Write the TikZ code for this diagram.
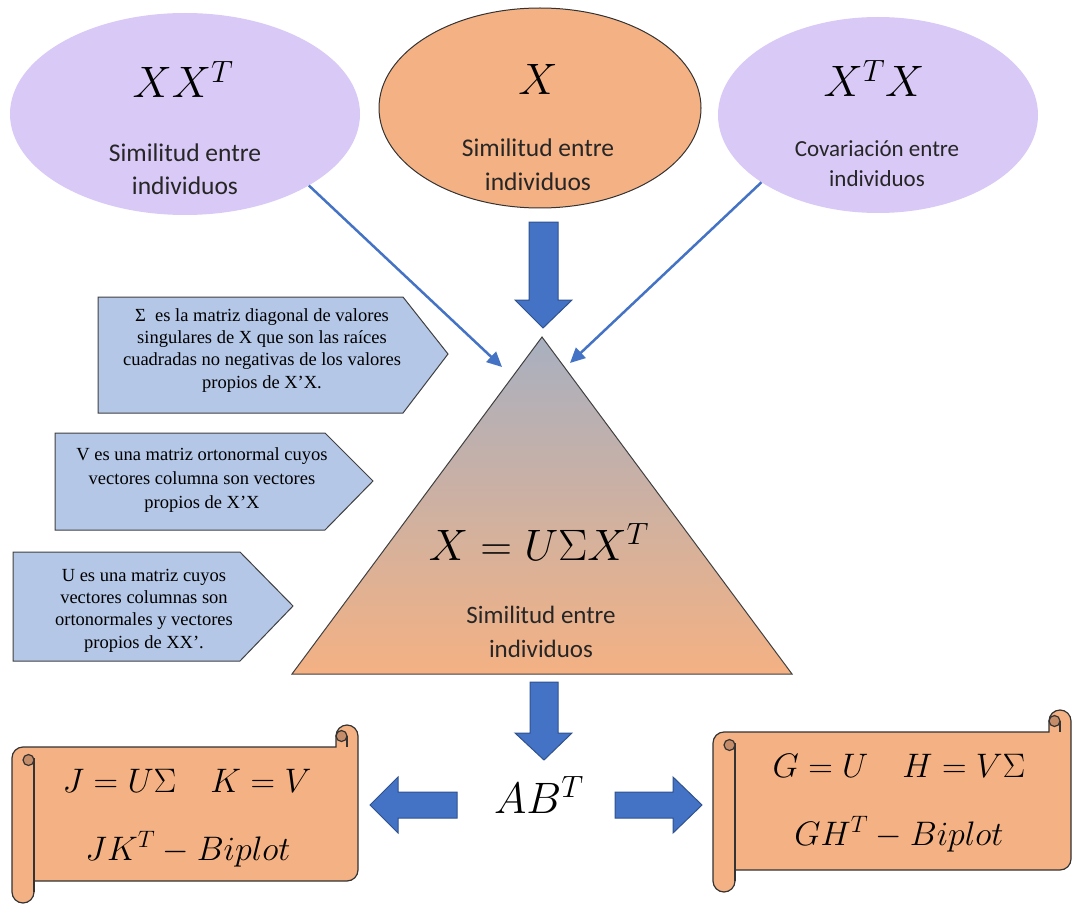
\RequirePackage{fix-cm}
\documentclass[tikz,border=0pt]{standalone}
\usepackage[no-math]{fontspec}
\setmainfont{Carlito}
\newfontfamily\cajafont{Liberation Serif}
\usetikzlibrary{arrows.meta, shapes.geometric}

\definecolor{lavanda}{RGB}{217,201,246}
\definecolor{naranja}{RGB}{244,177,131}
\definecolor{naranjaosc}{RGB}{196,140,104}
\definecolor{azulcaja}{RGB}{180,199,231}
\definecolor{azulflecha}{RGB}{68,114,196}
\definecolor{azulborde}{RGB}{47,82,143}
\definecolor{grisvertice}{RGB}{168,176,192}

% pergamino horizontal: izquierda, arriba, derecha, abajo
\newcommand{\pergamino}[4]{%
  \draw[rollo, fill=naranja] (#1,#2+33) -- (#1,#4-11) arc[start angle=180, end angle=0, radius=11]
    -- (#1+22,#4-22) -- (#3-11,#4-22) arc[start angle=90, end angle=0, radius=11]
    -- (#3,#2+11) arc[start angle=0, end angle=-180, radius=11]
    -- (#3-22,#2+22) -- (#1+11,#2+22) arc[start angle=-90, end angle=-180, radius=11] -- cycle;
  \draw[rollo] (#1+22,#2+33) -- (#1+22,#4-11);
  \draw[rollo, fill=naranjaosc] (#1+16.5,#2+35) circle[radius=5.5];
  \draw[rollo, fill=naranjaosc] (#3-16.5,#2+11) circle[radius=5.5];
  \draw[rollo] (#3-11,#2+11) -- (#3-11,#2+22);
}

\begin{document}
\begin{tikzpicture}[x=1pt, y=-1pt,
    elip/.style={ellipse, inner sep=0pt, fill=lavanda, draw=none},
    elipx/.style={ellipse, inner sep=0pt, fill=naranja, draw=black!80, line width=1pt},
    formula/.style={inner sep=0pt, anchor=base, font=\fontsize{44}{50}\selectfont},
    formulap/.style={inner sep=0pt, anchor=base, font=\fontsize{34}{40}\selectfont},
    texto/.style={inner sep=0pt, anchor=base, align=center, font=\fontsize{25.5}{33}\selectfont, text=black!85},
    nota/.style={inner sep=0pt, anchor=base, align=center, font=\cajafont\fontsize{18.5}{22.3}\selectfont},
    caja/.style={fill=azulcaja, draw=black!75, line width=1pt},
    bloque/.style={fill=azulflecha, draw=azulborde, line width=1pt},
    fina/.style={draw=azulflecha, line width=2.5pt, -{Triangle[length=15pt, width=14pt]}},
    tri/.style={top color=grisvertice, bottom color=naranja, draw=black!75, line width=1pt},
    rollo/.style={draw=black!80, line width=1.2pt},
]
\useasboundingbox (0,0) rectangle (1073,904);

% === Elipses superiores ===
\node[elip, minimum width=350, minimum height=202] (xxt) at (185,114) {};
\node[elipx, minimum width=322, minimum height=200] (x) at (540,108) {};
\node[elip, minimum width=320, minimum height=196] (xtx) at (878,115) {};

\node[formula] (xxtF) at (183,98) {$XX^T$};
\node[texto] (xxtT) at (185,195) {Similitud entre\\individuos};
\node[formula] (xF) at (538,95) {$X$};
\node[texto] (xT) at (538,190) {Similitud entre\\individuos};
\node[formula] (xtxF) at (874,97) {$X^TX$};
\node[texto, font=\fontsize{23}{30}\selectfont] (xtxT) at (877,187) {Covariación entre\\individuos};

% === Triangulo central ===
\coordinate (cima) at (542,337);
\coordinate (baseI) at (292,674);
\coordinate (baseD) at (792,674);
\draw[tri] (cima) -- (baseD) -- (baseI) -- cycle;
\node[formula] (svd) at (539,560) {$X=U\Sigma X^T$};
\node[texto, font=\fontsize{25}{34}\selectfont] (svdT) at (541,657) {Similitud entre\\individuos};

% flechas finas
\coordinate (llegaI) at (502,367);
\coordinate (llegaD) at (570,363);
\draw[fina] (xxt.-30) -- (llegaI);
\draw[fina] (xtx.-150) -- (llegaD);

% flecha de bloque X -> triangulo
\draw[bloque] (529,222) -- (558,222) -- (558,300) -- (572,300) -- (543,328) -- (515,300) -- (529,300) -- cycle;

% === Notas a la izquierda ===
\draw[caja] (98,297) -- (403,297) -- (448,354) -- (403,413) -- (98,413) -- cycle;
\node[nota] (notaSigma) at (262,388) {Σ\ \ es la matriz diagonal de valores\\singulares de X que son las raíces\\cuadradas no negativas de los valores\\propios de X’X.};

\draw[caja] (55,433) -- (325,433) -- (373,481) -- (325,530) -- (55,530) -- cycle;
\node[nota, font=\cajafont\fontsize{18.5}{24}\selectfont] (notaV) at (202,508) {V es una matriz ortonormal cuyos\\vectores columna son vectores\\propios de X’X};

\draw[caja] (13,552) -- (240,552) -- (293,606) -- (240,661) -- (13,661) -- cycle;
\node[nota] (notaU) at (144,648) {U es una matriz cuyos\\vectores columnas son\\ortonormales y vectores\\propios de XX’.};

% === Parte inferior ===
\draw[bloque] (530,682) -- (558,682) -- (558,733) -- (572,733) -- (544,760) -- (515,733) -- (530,733) -- cycle;
\node[formula] (ab) at (539,813) {$AB^T$};
\draw[bloque] (457,792) -- (398,792) -- (398,777) -- (370,805) -- (398,833) -- (398,818) -- (457,818) -- cycle;
\draw[bloque] (615,792) -- (673,792) -- (673,777) -- (702,805) -- (673,833) -- (673,818) -- (615,818) -- cycle;

% pergaminos
\pergamino{12}{725}{358}{903}
\pergamino{713}{710}{1071}{892}

\node[formulap] (jk) at (187,792) {$J=U\Sigma\quad K=V$};
\node[formulap] (jkB) at (188,860) {$JK^T-Biplot$};
\node[formulap] (gh) at (899,777) {$G=U\quad H=V\Sigma$};
\node[formulap] (ghB) at (899,845) {$GH^T-Biplot$};
\end{tikzpicture}
\end{document}
